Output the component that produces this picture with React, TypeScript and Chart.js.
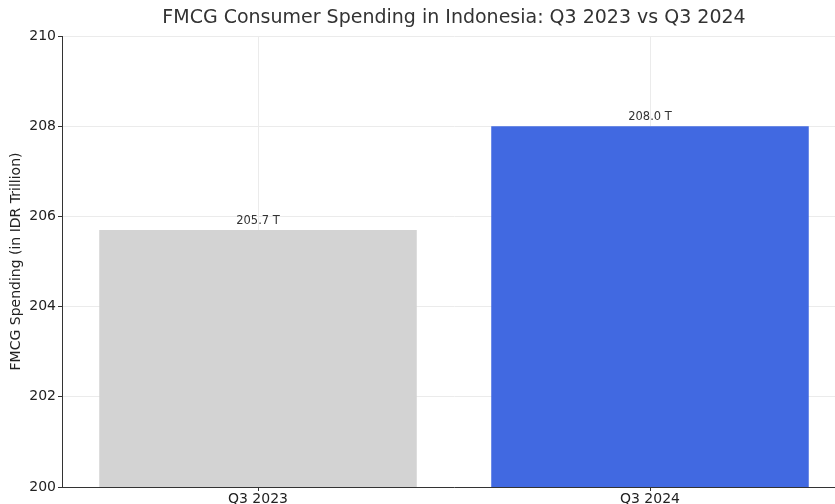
import React, { useEffect, useRef } from "react";
import { Chart, registerables } from "chart.js";

Chart.register(...registerables);

const categories = ["Q3 2023", "Q3 2024"];
const spending = [205.7, 208.0];
const barLabels = ["205.7 T", "208.0 T"];
const barColors = ["#d3d3d3", "#4169e1"];
const yTicks = [200, 202, 204, 206, 208, 210];
const titleText = "FMCG Consumer Spending in Indonesia: Q3 2023 vs Q3 2024";

const FONT = "'DejaVu Sans', sans-serif";

const barLabelPlugin = {
  id: "barLabels",
  afterDatasetsDraw(chart: any) {
    const ctx = chart.ctx;
    const meta = chart.getDatasetMeta(0);
    ctx.save();
    ctx.font = `11.5px ${FONT}`;
    ctx.fillStyle = "#333333";
    ctx.textAlign = "center";
    ctx.textBaseline = "bottom";
    meta.data.forEach((bar: any, i: number) => {
      ctx.fillText(barLabels[i], bar.x, bar.y - 3);
    });
    ctx.restore();
  },
};

const titlePlugin = {
  id: "axesTitle",
  afterDraw(chart: any) {
    const ctx = chart.ctx;
    const area = chart.chartArea;
    ctx.save();
    ctx.font = `19px ${FONT}`;
    ctx.fillStyle = "#333333";
    ctx.textAlign = "center";
    ctx.textBaseline = "middle";
    ctx.fillText(titleText, (area.left + area.right) / 2, 18);
    ctx.restore();
  },
};

export default function App() {
  const ref = useRef<HTMLCanvasElement>(null);
  useEffect(() => {
    if (!ref.current) return;
    const chart = new Chart(ref.current, {
      type: "bar",
      data: {
        labels: categories,
        datasets: [
          {
            data: spending,
            backgroundColor: barColors,
            borderWidth: 0,
            barPercentage: 0.81,
            categoryPercentage: 1,
          },
        ],
      },
      options: {
        animation: false,
        responsive: false,
        maintainAspectRatio: false,
        layout: { padding: { left: 0, right: 24, top: 36, bottom: 0 } },
        plugins: {
          legend: { display: false },
          tooltip: { enabled: false },
          title: { display: false },
        },
        scales: {
          x: {
            offset: true,
            grid: {
              offset: false,
              color: "#ebebeb",
              tickColor: "#333333",
              tickLength: 4,
            },
            border: { color: "#333333", width: 1 },
            ticks: {
              color: "#222222",
              font: { family: FONT, size: 14 },
              padding: 0,
            },
            afterFit(scale: any) {
              scale.height = 33;
            },
          },
          y: {
            min: 200,
            max: 210,
            afterBuildTicks(scale: any) {
              scale.ticks = yTicks.map((v) => ({ value: v }));
            },
            grid: {
              color: "#ebebeb",
              tickColor: "#333333",
              tickLength: 4,
            },
            border: { color: "#333333", width: 1 },
            ticks: {
              color: "#222222",
              font: { family: FONT, size: 14 },
              padding: 2,
            },
            title: {
              display: true,
              text: "FMCG Spending (in IDR Trillion)",
              color: "#222222",
              font: { family: FONT, size: 14 },
              padding: { top: 8, bottom: 0 },
            },
            afterFit(scale: any) {
              scale.width = 62;
            },
          },
        },
      },
      plugins: [barLabelPlugin, titlePlugin],
    });
    return () => chart.destroy();
  }, []);

  return (
    <div
      style={{
        position: "fixed",
        left: 0,
        top: 0,
        width: 835,
        height: 504,
        overflow: "hidden",
        background: "#ffffff",
      }}
    >
      <canvas ref={ref} width={870} height={520} style={{ width: 870, height: 520, display: "block" }} />
    </div>
  );
}
